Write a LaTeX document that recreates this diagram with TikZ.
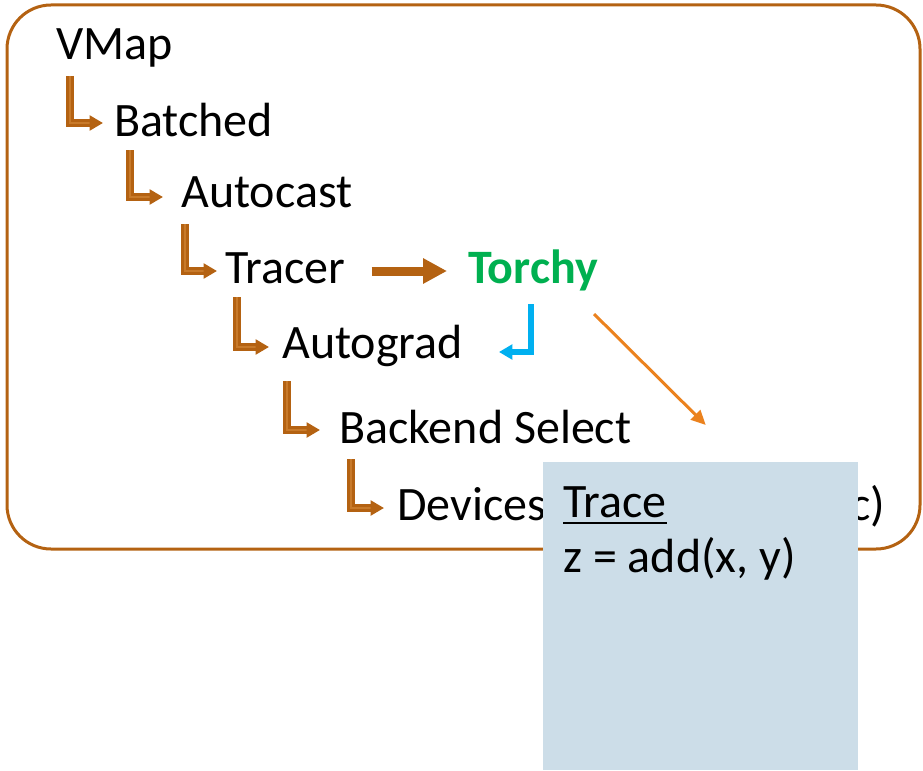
\documentclass[tikz,border=0pt]{standalone}
\usepackage{fontspec}
\setmainfont{Carlito}
\usetikzlibrary{arrows.meta,calc}

\definecolor{stackbrown}{RGB}{180,98,18}
\definecolor{stacklight}{RGB}{200,122,42}
\definecolor{torchgreen}{RGB}{0,176,80}
\definecolor{torchblue}{RGB}{0,176,240}
\definecolor{traceorange}{RGB}{235,130,30}
\definecolor{tracefill}{RGB}{204,221,232}

\begin{document}
\begin{tikzpicture}[
    x=0.75pt, y=-0.75pt,
    frame/.style={draw=stackbrown, line width=2.25pt, rounded corners=33pt},
    layer/.style={anchor=base west, inner sep=0pt, font=\fontsize{36}{43}\selectfont},
    elbow/.style={-{Triangle[width=11pt,length=10pt]}, draw=stackbrown, line width=2.3pt, double=stacklight, double distance=0.8pt},
    bigarrow/.style={-{Triangle[width=18pt,length=18pt]}, draw=stackbrown, line width=6.75pt},
    backarrow/.style={-{Triangle[width=11pt,length=10pt]}, draw=torchblue, line width=4.5pt},
    tracearrow/.style={-{Triangle[width=10pt,length=11pt]}, draw=traceorange, line width=2.25pt},
    tracebox/.style={rectangle, fill=tracefill, minimum width=236.25pt, minimum height=231pt, inner sep=0pt}
]
    \useasboundingbox (0,0) rectangle (923,770);

    % Dispatch stack frame
    \draw[frame] (7,5) rectangle (920,549);

    % Dispatch keys
    \node[layer] (vmap) at (56,60) {VMap};
    \node[layer] (batched) at (114,137) {Batched};
    \node[layer] (autocast) at (181,207) {Autocast};
    \node[layer] (tracer) at (225,283) {Tracer};
    \node[layer, font=\fontsize{36}{43}\selectfont\bfseries, text=torchgreen] (torchy) at (468,283) {Torchy};
    \node[layer] (autograd) at (282,358) {Autograd};
    \node[layer] (backend) at (339,443) {Backend Select};
    \node[layer] (devices) at (397,520) {Devices (CPU, CUDA, etc)};

    % Fallthrough arrows
    \draw[elbow] ($(vmap.base west)+(14,16)$) |- ($(batched.base west)+(-11,-14)$);
    \draw[elbow] ($(batched.base west)+(16,13)$) |- ($(autocast.base west)+(-18,-10)$);
    \draw[elbow] ($(autocast.base west)+(4,17)$) |- ($(tracer.base west)+(-8,-12)$);
    \draw[elbow] ($(tracer.base west)+(12,14)$) |- ($(autograd.base west)+(-13,-11)$);
    \draw[elbow] ($(autograd.base west)+(5,23)$) |- ($(backend.base west)+(-19,-13)$);
    \draw[elbow] ($(backend.base west)+(12,16)$) |- ($(devices.base west)+(-13,-12)$);

    % Torchy hook
    \draw[bigarrow] ($(tracer.base east)+(26,-12)$) -- ($(torchy.base west)+(-21,-12)$);
    \draw[backarrow] ($(torchy.base west)+(63,21)$) |- ($(autograd.base east)+(36,-6)$);

    % Trace
    \node[tracebox, anchor=north west] (trace) at (543,462) {};
    \draw[tracearrow] ($(torchy.base east)+(-4,31)$) -- ($(trace.north)+(5,-37)$);
    \node[layer] (tracelbl) at (563,517) {Trace};
    \draw[line width=1.8pt] ($(tracelbl.base west)+(0,6)$) -- ($(tracelbl.base east)+(0,6)$);
    \node[layer] (traceop) at (563,572) {z = add(x, y)};

\end{tikzpicture}
\end{document}
